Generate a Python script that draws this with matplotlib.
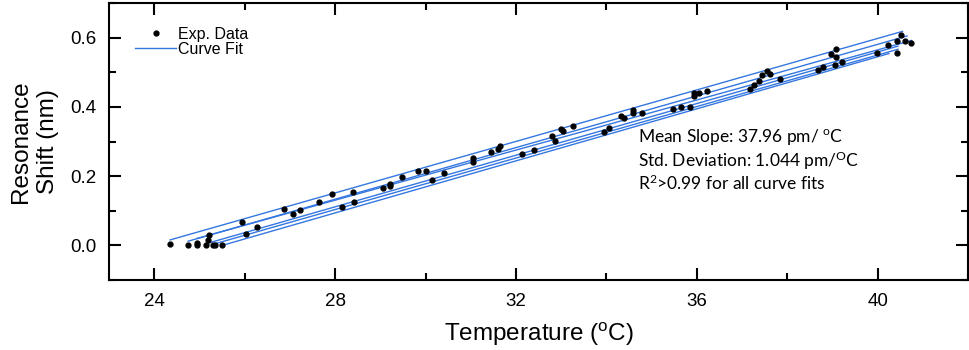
import numpy as np
import matplotlib.pyplot as plt
from matplotlib.ticker import MultipleLocator

plt.rcParams['font.family'] = ['Liberation Sans', 'DejaVu Sans']
plt.rcParams['mathtext.fontset'] = 'custom'
plt.rcParams['mathtext.rm'] = 'Liberation Sans'

# measured resonance shift vs temperature (all runs pooled)
temp = [24.35, 24.74, 24.94, 24.94, 25.14, 25.20, 25.22, 25.31, 25.35, 25.50,
        25.95, 26.03, 26.28, 26.88, 27.08, 27.23, 27.65, 27.93, 28.16, 28.40,
        28.42, 29.06, 29.22, 29.22, 29.47, 29.84, 30.00, 30.14, 30.40, 31.04,
        31.04, 31.44, 31.61, 31.65, 32.13, 32.39, 32.79, 32.87, 32.99, 33.05,
        33.26, 33.95, 34.06, 34.33, 34.40, 34.58, 34.58, 34.78, 35.48, 35.65,
        35.84, 35.94, 35.94, 36.04, 36.22, 37.17, 37.26, 37.37, 37.44, 37.55,
        37.62, 37.85, 38.68, 38.79, 39.05, 39.21, 38.97, 39.08, 39.08, 39.98,
        40.24, 40.43, 40.43, 40.52, 40.61, 40.74]
shift = [0.003, 0.000, 0.008, 0.002, 0.000, 0.017, 0.029, 0.000, 0.000, 0.000,
         0.067, 0.033, 0.052, 0.105, 0.091, 0.103, 0.125, 0.149, 0.111, 0.155,
         0.126, 0.167, 0.176, 0.171, 0.198, 0.214, 0.214, 0.189, 0.209, 0.253,
         0.240, 0.270, 0.278, 0.287, 0.265, 0.276, 0.315, 0.303, 0.336, 0.331,
         0.345, 0.327, 0.339, 0.375, 0.368, 0.391, 0.384, 0.384, 0.395, 0.401,
         0.399, 0.431, 0.439, 0.441, 0.446, 0.452, 0.463, 0.474, 0.491, 0.505,
         0.495, 0.481, 0.506, 0.516, 0.522, 0.531, 0.553, 0.567, 0.544, 0.557,
         0.579, 0.590, 0.557, 0.609, 0.590, 0.585]

# linear fits, one per run: slope (nm/C), intercept (nm), fitted range (C)
fit_slope = [0.0372, 0.0373, 0.0362, 0.0373, 0.0372, 0.0376]
fit_icpt = [-0.890, -0.911, -0.883, -0.933, -0.938, -0.959]
fit_start = [24.35, 24.75, 24.95, 25.15, 25.30, 25.50]
fit_end = [40.55, 40.65, 40.75, 40.45, 40.45, 40.25]

fig = plt.figure(figsize=(9.7, 3.5), dpi=100)
ax = fig.add_axes([0.1124, 0.2, 0.8856, 0.791])

line_col = '#3577e0'
for i in range(len(fit_slope)):
    xx = np.array([fit_start[i], fit_end[i]])
    yy = np.polyval([fit_slope[i], fit_icpt[i]], xx)
    ax.plot(xx, yy, '-', color=line_col, lw=1.0,
            label='Curve Fit' if i == 0 else None, zorder=2)

ax.plot(temp, shift, 'o', color='black', markersize=3.5, linestyle='None',
        label='Exp. Data', zorder=3)

ax.set_xlim(23, 42)
ax.set_ylim(-0.1, 0.7)
ax.xaxis.set_major_locator(MultipleLocator(4))
ax.xaxis.set_minor_locator(MultipleLocator(2))
ax.yaxis.set_major_locator(MultipleLocator(0.2))
ax.yaxis.set_minor_locator(MultipleLocator(0.1))
ax.yaxis.set_major_formatter(plt.FormatStrFormatter('%.1f'))
ax.tick_params(which='both', direction='in', top=True, right=True, width=1.5,
               labelsize=13.5, pad=9)
ax.tick_params(which='major', length=8.5)
ax.tick_params(which='minor', length=5)
for sp in ax.spines.values():
    sp.set_linewidth(1.5)

ax.set_xlabel(r'Temperature ($\mathregular{^o}$C)', fontsize=17.5, labelpad=8)
ax.set_ylabel('Resonance\nShift (nm)', fontsize=17.5, labelpad=8,
              linespacing=1.3)

h, l = ax.get_legend_handles_labels()
ax.legend([h[1], h[0]], [l[1], l[0]], loc='upper left',
          bbox_to_anchor=(0.03, 0.915), frameon=False, fontsize=11.5,
          handlelength=2.6, handletextpad=0.1, labelspacing=0.02,
          borderpad=0, borderaxespad=0)

ax.text(0.616, 0.433,
        'Mean Slope: 37.96 pm/ $\\mathregular{^o}$C\n'
        'Std. Deviation: 1.044 pm/$\\mathregular{^O}$C\n'
        'R$\\mathregular{^2}$>0.99 for all curve fits',
        transform=ax.transAxes, ha='left', va='center', fontsize=12.5,
        family='Lato', linespacing=1.12)

fig.savefig('out.png', dpi=100)
